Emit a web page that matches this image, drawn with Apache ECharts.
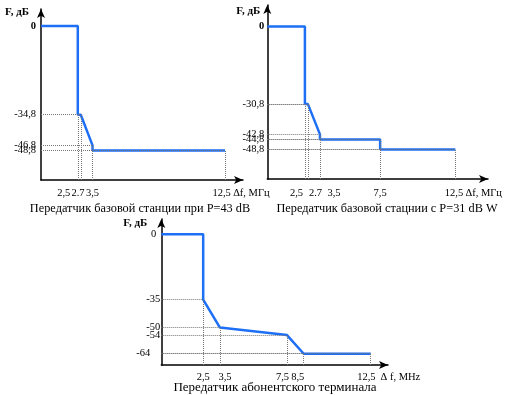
<!DOCTYPE html>
<html><head><meta charset="utf-8">
<script src="https://cdn.jsdelivr.net/npm/echarts@6/dist/echarts.min.js"></script>
<style>html,body{margin:0;padding:0;background:#fff}#c{width:508px;height:395px}</style>
</head><body><div id="c"></div>
<script>
// ---- Chart 1: base station, P=43 dB ----
const bs43Freq  = [0, 2.5, 2.5, 2.7, 3.5, 3.5, 12.5];
const bs43Level = [0, 0, -34.8, -34.8, -46.8, -48.8, -48.8];
const bs43XTicks  = [2.5, 2.7, 3.5, 12.5];
const bs43XLabels = ['2,5', '2.7', '3,5', '12,5 \u2206f, МГц'];
const bs43YTicks  = [0, -34.8, -46.8, -48.8];
const bs43YLabels = ['0', '-34,8', '-46,8', '-48,8'];
// ---- Chart 2: base station, P=31 dB W ----
const bs31Freq  = [0, 2.5, 2.5, 2.7, 3.5, 3.5, 7.5, 7.5, 12.5];
const bs31Level = [0, 0, -30.8, -30.8, -42.8, -44.8, -44.8, -48.8, -48.8];
const bs31XTicks  = [2.5, 2.7, 3.5, 7.5, 12.5];
const bs31XLabels = ['2,5', '2.7', '3,5', '7,5', '12,5 \u2206f, МГц'];
const bs31YTicks  = [0, -30.8, -42.8, -44.8, -48.8];
const bs31YLabels = ['0', '-30,8', '-42,8', '-44,8', '-48,8'];
// ---- Chart 3: subscriber terminal ----
const utFreq  = [0, 2.5, 2.5, 3.5, 7.5, 8.5, 12.5];
const utLevel = [0, 0, -35, -50, -54, -64, -64];
const utXTicks  = [2.5, 3.5, 7.5, 8.5, 12.5];
const utXLabels = ['2,5', '3,5', '7,5', '8,5', '12,5  \u2206 f, MHz'];
const utYTicks  = [0, -35, -50, -54, -64];
const utYLabels = ['0', '-35', '-50', '-54', '-64'];
// ---- texts ----
const yAxisName = 'F, дБ';
const captions = ['Передатчик базовой станции при P=43 dB', 'Передатчик базовой стацнии с P=31 dB W', 'Передатчик абонентского терминала'];

const FONT = 'Liberation Serif';
const LINE = '#1d6ff5';
const TICK_FS = 10.5;

const panels = [
  { freq: bs43Freq, level: bs43Level, xt: bs43XTicks, xl: bs43XLabels, yt: bs43YTicks, yl: bs43YLabels,
    grid: { left: 41, top: 9, width: 202, height: 171 }, xr: [0, 13.72], yr: [-60.4, 6.67],
    xShift: [-14, -2.7, 0, 16], yPad: [0, 0, 0, 0], yMargin: 5, xMargin: 8, bold0: true,
    nameGap: -3, namePad: 12, cap: { x: 140, y: 203, fs: 12.3 } },
  { freq: bs31Freq, level: bs31Level, xt: bs31XTicks, xl: bs31XLabels, yt: bs31YTicks, yl: bs31YLabels,
    grid: { left: 267.3, top: 5, width: 220.7, height: 174 }, xr: [0, 14.67], yr: [-60.52, 8.53],
    xShift: [-8.4, 7.6, 14, 0, 18], yPad: [0, 0, 0, 0, 0], yMargin: 3, xMargin: 9, bold0: true,
    nameGap: -6, namePad: 7, cap: { x: 387, y: 203, fs: 12.3 } },
  { freq: utFreq, level: utLevel, xt: utXTicks, xl: utXLabels, yt: utYTicks, yl: utYLabels,
    grid: { left: 161.3, top: 219, width: 226.7, height: 146 }, xr: [0, 13.53], yr: [-70.04, 8.2],
    xShift: [0, 5, -4.5, -6, 18], yPad: [4, 0, 0, 0, 10], yMargin: 1, xMargin: 7, bold0: false,
    nameGap: -4, namePad: 14, cap: { x: 275, y: 381, fs: 13 } }
];

function idxOf(arr, v) { return arr.findIndex(a => Math.abs(a - v) < 1e-6); }

const option = { animation: false, grid: [], xAxis: [], yAxis: [], series: [], title: [] };

panels.forEach((p, i) => {
  option.grid.push(Object.assign({ containLabel: false, outerBoundsMode: 'none' }, p.grid));
  const xRich = {};
  p.xShift.forEach((d, k) => { xRich['s' + k] = { padding: d < 0 ? [0, -2 * d, 0, 0] : [0, 0, 0, 2 * d] }; });
  const yRich = {};
  p.yPad.forEach((d, k) => {
    yRich['s' + k] = { padding: [0, d, 0, 0], fontWeight: (k === 0 && p.bold0) ? 'bold' : 'normal' };
  });
  const axisLine = { show: true, onZero: false, lineStyle: { color: '#000', width: 1.5 }, symbol: ['none', 'arrow'], symbolSize: [6, 9] };
  option.xAxis.push({
    type: 'value', gridIndex: i, min: p.xr[0], max: p.xr[1],
    axisLine, axisTick: { show: false }, splitLine: { show: false },
    axisLabel: {
      // axis ends are added as blank placeholders so no real label is auto-hidden
      customValues: [p.xr[0]].concat(p.xt, [p.xr[1]]),
      showMinLabel: false, showMaxLabel: false, hideOverlap: false,
      margin: p.xMargin, fontFamily: FONT, fontSize: TICK_FS, color: '#000',
      formatter: v => { const k = idxOf(p.xt, v); return k < 0 ? '' : '{s' + k + '|' + p.xl[k] + '}'; },
      rich: xRich
    }
  });
  option.yAxis.push({
    type: 'value', gridIndex: i, min: p.yr[0], max: p.yr[1],
    name: yAxisName, nameLocation: 'end', nameGap: p.nameGap,
    nameTextStyle: { fontFamily: FONT, fontSize: 11, fontWeight: 'bold', color: '#000', align: 'right', verticalAlign: 'middle', padding: [0, p.namePad, 0, 0] },
    axisLine, axisTick: { show: false }, splitLine: { show: false },
    axisLabel: {
      customValues: [p.yr[0]].concat(p.yt.slice().reverse(), [p.yr[1]]),
      showMinLabel: false, showMaxLabel: false, hideOverlap: false,
      margin: p.yMargin, fontFamily: FONT, fontSize: TICK_FS, color: '#000',
      formatter: v => { const k = idxOf(p.yt, v); return k < 0 ? '' : '{s' + k + '|' + p.yl[k] + '}'; },
      rich: yRich
    }
  });
  const pts = p.freq.map((f, k) => [f, p.level[k]]);
  const guides = [];
  pts.forEach(([f, l]) => {
    if (l === 0) return;
    guides.push([{ coord: [p.xr[0], l] }, { coord: [f, l] }]);
    guides.push([{ coord: [f, p.yr[0]] }, { coord: [f, l] }]);
  });
  option.series.push({
    type: 'line', xAxisIndex: i, yAxisIndex: i, data: pts, symbol: 'none', z: 1,
    lineStyle: { opacity: 0 }, silent: true,
    markLine: { silent: true, symbol: ['none', 'none'], label: { show: false },
      lineStyle: { color: '#777', width: 1, type: [1, 1] }, emphasis: { disabled: true }, data: guides }
  });
  option.series.push({
    type: 'line', xAxisIndex: i, yAxisIndex: i, data: pts, symbol: 'none', showSymbol: false, z: 3,
    lineStyle: { color: LINE, width: 2.5 }
  });
  option.title.push({
    text: captions[i], left: p.cap.x, top: p.cap.y, textAlign: 'center', padding: 0,
    textStyle: { fontFamily: FONT, fontSize: p.cap.fs, fontWeight: 'normal', color: '#000' }
  });
});

const chart = echarts.init(document.getElementById('c'), null, { renderer: 'canvas' });
chart.setOption(option);
</script>
</body></html>
